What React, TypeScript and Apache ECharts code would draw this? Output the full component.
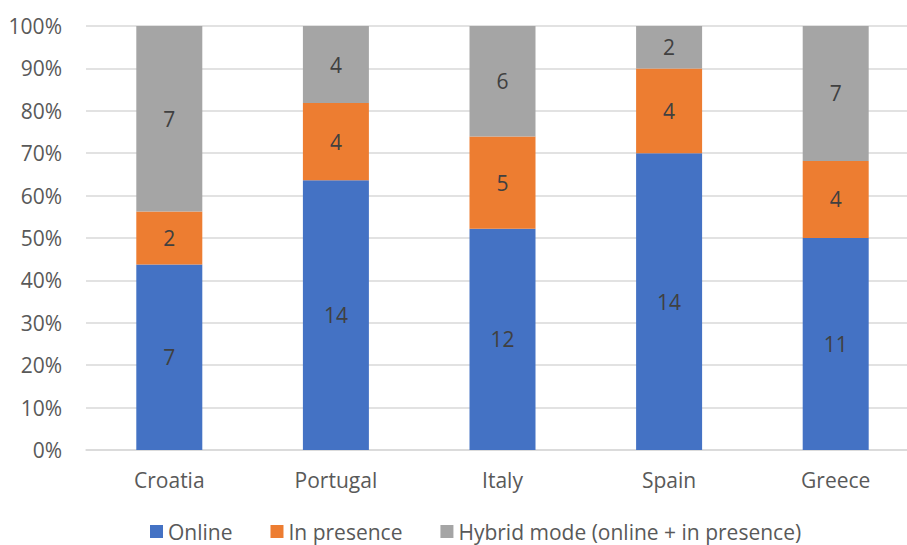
import React, { useEffect, useRef } from "react";
import * as echarts from "echarts";

const countries = ["Croatia", "Portugal", "Italy", "Spain", "Greece"];
const online = [7, 14, 12, 14, 11];
const inPresence = [2, 4, 5, 4, 4];
const hybrid = [7, 4, 6, 2, 7];
const seriesNames = ["Online", "In presence", "Hybrid mode (online + in presence)"];
const colors = ["#4472C4", "#ED7D31", "#A5A5A5"];

const FONT = "'Open Sans', Lato, sans-serif";
const FS = 21;

export default function App() {
  const ref = useRef<HTMLDivElement>(null);

  useEffect(() => {
    if (!ref.current) return;
    const chart = echarts.init(ref.current, undefined, { renderer: "svg" });
    const totals = countries.map((_, i) => online[i] + inPresence[i] + hybrid[i]);
    const groups = [online, inPresence, hybrid];

    chart.setOption({
      animation: false,
      textStyle: { fontFamily: FONT },
      grid: { left: 86, top: 26, width: 833, bottom: 95, containLabel: false },
      legend: {
        left: 150,
        top: 521,
        padding: 0,
        itemWidth: 13,
        itemHeight: 13,
        itemGap: 38,
        icon: "rect",
        textStyle: { fontSize: FS, color: "#595959", fontFamily: FONT },
        data: seriesNames,
      },
      xAxis: {
        type: "category",
        data: countries,
        axisLine: { show: true, lineStyle: { color: "#D9D9D9", width: 1.5 } },
        axisTick: { show: false },
        axisLabel: { fontSize: FS, color: "#595959", margin: 19, fontFamily: FONT },
      },
      yAxis: {
        type: "value",
        min: 0,
        max: 100,
        interval: 10,
        axisLine: { show: false },
        axisTick: { show: false },
        splitLine: { lineStyle: { color: "#D9D9D9", width: 1.5 } },
        axisLabel: {
          fontSize: FS,
          color: "#595959",
          margin: 24,
          fontFamily: FONT,
          formatter: (v: number) => `${v}%`,
        },
      },
      series: groups.map((g, si) => ({
        name: seriesNames[si],
        type: "bar",
        stack: "total",
        barWidth: 66,
        itemStyle: { color: colors[si] },
        label: {
          show: true,
          position: "inside",
          fontSize: FS,
          color: "#404040",
          fontFamily: FONT,
          formatter: (p: any) => String(g[p.dataIndex]),
        },
        data: g.map((v, i) => (v / totals[i]) * 100),
      })),
    });

    return () => chart.dispose();
  }, []);

  return (
    <div
      style={{
        position: "fixed",
        left: 0,
        top: 0,
        width: 907,
        height: 545,
        overflow: "hidden",
        background: "#fff",
      }}
    >
      <div ref={ref} style={{ width: 940, height: 545 }} />
    </div>
  );
}
